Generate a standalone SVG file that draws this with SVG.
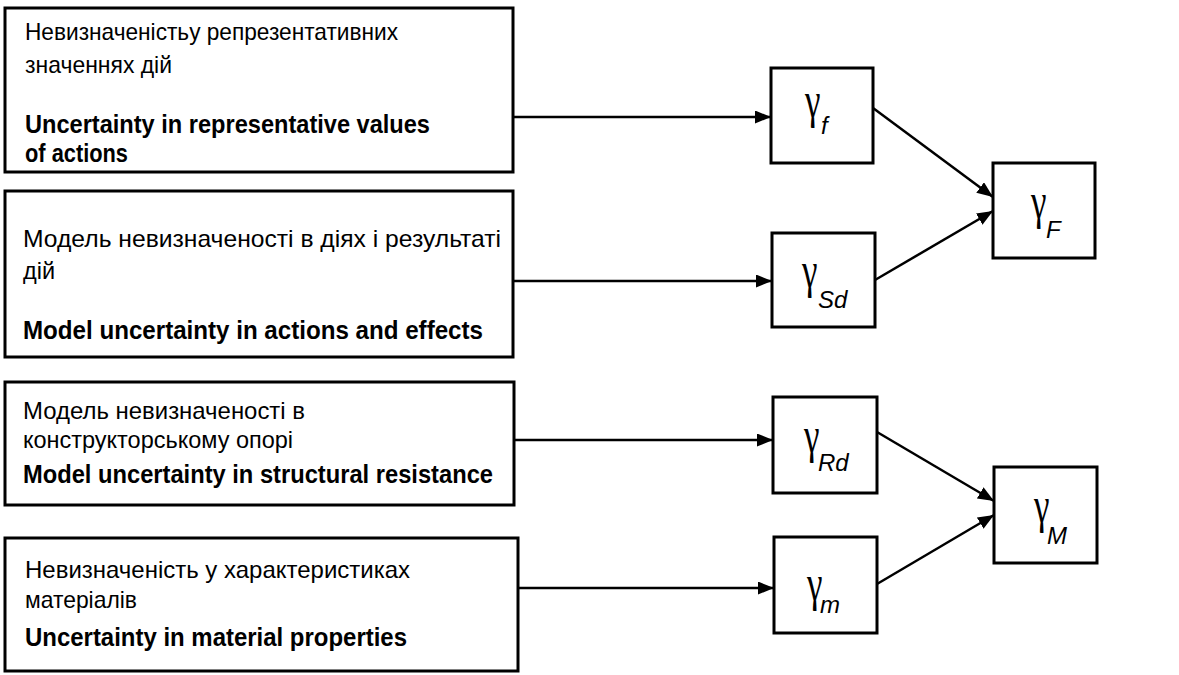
<svg xmlns="http://www.w3.org/2000/svg" width="1179" height="675" viewBox="0 0 1179 675">
<style>
.box{fill:#fff;stroke:#000;stroke-width:3}
.ua{font-family:"Liberation Sans",Arial,sans-serif;font-size:24px;fill:#000}
.en{font-family:"Liberation Sans",Arial,sans-serif;font-size:25px;font-weight:bold;fill:#000}
.g{font-family:"Liberation Serif","Times New Roman",serif;font-size:50px;fill:#000}
.s{font-family:"Liberation Sans",Arial,sans-serif;font-size:24px;font-style:italic;fill:#000}
.c{fill:none;stroke:#000;stroke-width:2.5}
</style>
<defs>
<marker id="ah" markerUnits="userSpaceOnUse" markerWidth="16" markerHeight="13" refX="16" refY="6.5" orient="auto">
<path d="M0,0 L16,6.5 L0,13 z" fill="#000"/>
</marker>
</defs>
<rect width="1179" height="675" fill="#fff"/>
<g id="connectors">
<line class="c" x1="514" y1="117" x2="771" y2="117" marker-end="url(#ah)"/>
<line class="c" x1="514" y1="281" x2="772" y2="281" marker-end="url(#ah)"/>
<line class="c" x1="514" y1="440" x2="773" y2="440" marker-end="url(#ah)"/>
<line class="c" x1="518" y1="588" x2="774" y2="588" marker-end="url(#ah)"/>
<line class="c" x1="873" y1="108" x2="993" y2="197" marker-end="url(#ah)"/>
<line class="c" x1="875" y1="280" x2="993" y2="211" marker-end="url(#ah)"/>
<line class="c" x1="877" y1="432" x2="994" y2="501" marker-end="url(#ah)"/>
<line class="c" x1="877" y1="584" x2="994" y2="515" marker-end="url(#ah)"/>
</g>
<g id="box1">
<rect class="box" x="5" y="8" width="508" height="164"/>
<text class="ua" x="25" y="40" textLength="373" lengthAdjust="spacingAndGlyphs">Невизначеністьу репрезентативних</text>
<text class="ua" x="25" y="73" textLength="147" lengthAdjust="spacingAndGlyphs">значеннях дій</text>
<text class="en" x="25" y="133" textLength="405" lengthAdjust="spacingAndGlyphs">Uncertainty in representative values</text>
<text class="en" x="25" y="162" textLength="103" lengthAdjust="spacingAndGlyphs">of actions</text>
</g>
<g id="box2">
<rect class="box" x="5" y="191" width="508" height="166"/>
<text class="ua" x="23" y="247" textLength="478" lengthAdjust="spacingAndGlyphs">Модель невизначеності в діях і результаті</text>
<text class="ua" x="23" y="279" textLength="32" lengthAdjust="spacingAndGlyphs">дій</text>
<text class="en" x="23" y="339" textLength="460" lengthAdjust="spacingAndGlyphs">Model uncertainty in actions and  effects</text>
</g>
<g id="box3">
<rect class="box" x="5" y="382" width="509" height="123"/>
<text class="ua" x="23" y="419" textLength="282" lengthAdjust="spacingAndGlyphs">Модель невизначеності в</text>
<text class="ua" x="23" y="448" textLength="270" lengthAdjust="spacingAndGlyphs">конструкторському опорі</text>
<text class="en" x="23" y="483" textLength="470" lengthAdjust="spacingAndGlyphs">Model uncertainty in structural resistance</text>
</g>
<g id="box4">
<rect class="box" x="5" y="538" width="513" height="133"/>
<text class="ua" x="25" y="578" textLength="385" lengthAdjust="spacingAndGlyphs">Невизначеність у характеристиках</text>
<text class="ua" x="25" y="608" textLength="112" lengthAdjust="spacingAndGlyphs">матеріалів</text>
<text class="en" x="25" y="646" textLength="382" lengthAdjust="spacingAndGlyphs">Uncertainty in material properties</text>
</g>
<g id="gamma_f">
<rect class="box" x="771" y="68" width="102" height="95"/>
<text class="g" transform="translate(805,117) scale(0.7,1)">γ</text>
<text class="s" x="821" y="134">f</text>
</g>
<g id="gamma_Sd">
<rect class="box" x="772" y="233" width="103" height="94"/>
<text class="g" transform="translate(802,287) scale(0.7,1)">γ</text>
<text class="s" x="818" y="308">Sd</text>
</g>
<g id="gamma_F">
<rect class="box" x="993" y="163" width="102" height="95"/>
<text class="g" transform="translate(1031,218) scale(0.7,1)">γ</text>
<text class="s" x="1046" y="238">F</text>
</g>
<g id="gamma_Rd">
<rect class="box" x="773" y="397" width="104" height="96"/>
<text class="g" transform="translate(804,452) scale(0.7,1)">γ</text>
<text class="s" x="818" y="471">Rd</text>
</g>
<g id="gamma_m">
<rect class="box" x="774" y="537" width="103" height="96"/>
<text class="g" transform="translate(807,600) scale(0.7,1)">γ</text>
<text class="s" x="820" y="613">m</text>
</g>
<g id="gamma_M">
<rect class="box" x="994" y="467" width="103" height="96"/>
<text class="g" transform="translate(1034,522) scale(0.7,1)">γ</text>
<text class="s" x="1047" y="544">M</text>
</g>
</svg>
